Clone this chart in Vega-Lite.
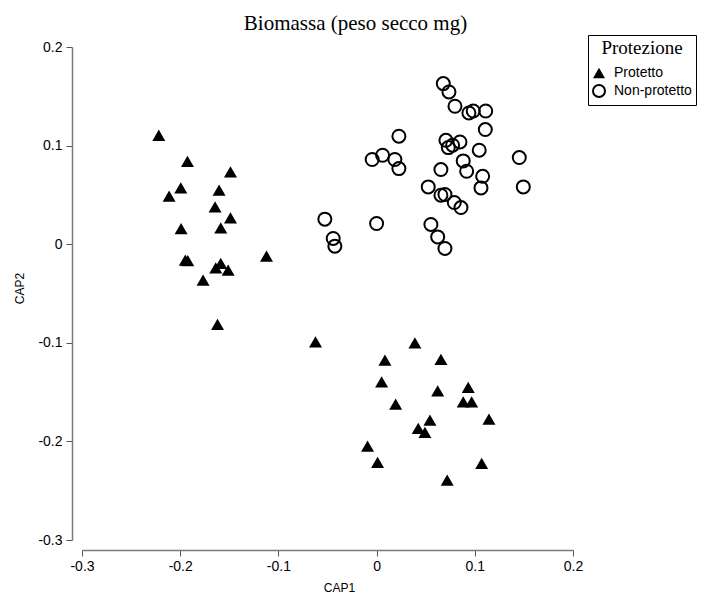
{
  "$schema": "https://vega.github.io/schema/vega-lite/v6.json",
  "width": 491,
  "height": 493,
  "autosize": {"type": "none"},
  "padding": {"left": 82, "top": 47, "right": 129, "bottom": 55},
  "background": "white",
  "title": {"text": "Biomassa (peso secco mg)", "font": "Liberation Serif", "fontSize": 21, "fontWeight": "normal", "color": "black", "anchor": "middle", "frame": "group", "dx": 28, "dy": 24, "baseline": "alphabetic", "offset": 8},
  "config": {"view": {"stroke": null}},
  "data": {"values": [
    {"CAP1": -0.2218, "CAP2": 0.1105, "gruppo": "Protetto"},
    {"CAP1": -0.1926, "CAP2": 0.0841, "gruppo": "Protetto"},
    {"CAP1": -0.1488, "CAP2": 0.0733, "gruppo": "Protetto"},
    {"CAP1": -0.1994, "CAP2": 0.0571, "gruppo": "Protetto"},
    {"CAP1": -0.2113, "CAP2": 0.0487, "gruppo": "Protetto"},
    {"CAP1": -0.1604, "CAP2": 0.0548, "gruppo": "Protetto"},
    {"CAP1": -0.1645, "CAP2": 0.0378, "gruppo": "Protetto"},
    {"CAP1": -0.1488, "CAP2": 0.0267, "gruppo": "Protetto"},
    {"CAP1": -0.1587, "CAP2": 0.0165, "gruppo": "Protetto"},
    {"CAP1": -0.1991, "CAP2": 0.0159, "gruppo": "Protetto"},
    {"CAP1": -0.1948, "CAP2": -0.0162, "gruppo": "Protetto"},
    {"CAP1": -0.1923, "CAP2": -0.0167, "gruppo": "Protetto"},
    {"CAP1": -0.1121, "CAP2": -0.0121, "gruppo": "Protetto"},
    {"CAP1": -0.1638, "CAP2": -0.024, "gruppo": "Protetto"},
    {"CAP1": -0.1587, "CAP2": -0.0195, "gruppo": "Protetto"},
    {"CAP1": -0.1512, "CAP2": -0.0263, "gruppo": "Protetto"},
    {"CAP1": -0.1767, "CAP2": -0.0365, "gruppo": "Protetto"},
    {"CAP1": -0.162, "CAP2": -0.0814, "gruppo": "Protetto"},
    {"CAP1": -0.0622, "CAP2": -0.099, "gruppo": "Protetto"},
    {"CAP1": 0.039, "CAP2": -0.1, "gruppo": "Protetto"},
    {"CAP1": 0.0085, "CAP2": -0.1176, "gruppo": "Protetto"},
    {"CAP1": 0.0655, "CAP2": -0.1169, "gruppo": "Protetto"},
    {"CAP1": 0.0051, "CAP2": -0.1396, "gruppo": "Protetto"},
    {"CAP1": 0.0622, "CAP2": -0.1487, "gruppo": "Protetto"},
    {"CAP1": 0.0933, "CAP2": -0.1452, "gruppo": "Protetto"},
    {"CAP1": 0.0882, "CAP2": -0.1598, "gruppo": "Protetto"},
    {"CAP1": 0.0968, "CAP2": -0.1598, "gruppo": "Protetto"},
    {"CAP1": 0.0194, "CAP2": -0.1622, "gruppo": "Protetto"},
    {"CAP1": 0.1144, "CAP2": -0.1774, "gruppo": "Protetto"},
    {"CAP1": 0.0543, "CAP2": -0.1784, "gruppo": "Protetto"},
    {"CAP1": 0.0424, "CAP2": -0.1868, "gruppo": "Protetto"},
    {"CAP1": 0.0492, "CAP2": -0.1908, "gruppo": "Protetto"},
    {"CAP1": -0.0092, "CAP2": -0.2047, "gruppo": "Protetto"},
    {"CAP1": 0.001, "CAP2": -0.2213, "gruppo": "Protetto"},
    {"CAP1": 0.107, "CAP2": -0.2223, "gruppo": "Protetto"},
    {"CAP1": 0.0719, "CAP2": -0.2392, "gruppo": "Protetto"},
    {"CAP1": 0.0679, "CAP2": 0.1629, "gruppo": "Non-protetto"},
    {"CAP1": 0.0737, "CAP2": 0.1544, "gruppo": "Non-protetto"},
    {"CAP1": 0.0798, "CAP2": 0.1399, "gruppo": "Non-protetto"},
    {"CAP1": 0.094, "CAP2": 0.1331, "gruppo": "Non-protetto"},
    {"CAP1": 0.0984, "CAP2": 0.1351, "gruppo": "Non-protetto"},
    {"CAP1": 0.1111, "CAP2": 0.1351, "gruppo": "Non-protetto"},
    {"CAP1": 0.1107, "CAP2": 0.1163, "gruppo": "Non-protetto"},
    {"CAP1": 0.0227, "CAP2": 0.1095, "gruppo": "Non-protetto"},
    {"CAP1": 0.0706, "CAP2": 0.1054, "gruppo": "Non-protetto"},
    {"CAP1": 0.0849, "CAP2": 0.1037, "gruppo": "Non-protetto"},
    {"CAP1": 0.073, "CAP2": 0.098, "gruppo": "Non-protetto"},
    {"CAP1": 0.0774, "CAP2": 0.1004, "gruppo": "Non-protetto"},
    {"CAP1": 0.1045, "CAP2": 0.0953, "gruppo": "Non-protetto"},
    {"CAP1": 0.0061, "CAP2": 0.0902, "gruppo": "Non-protetto"},
    {"CAP1": -0.0045, "CAP2": 0.0859, "gruppo": "Non-protetto"},
    {"CAP1": 0.0186, "CAP2": 0.0859, "gruppo": "Non-protetto"},
    {"CAP1": 0.0227, "CAP2": 0.0767, "gruppo": "Non-protetto"},
    {"CAP1": 0.0882, "CAP2": 0.0845, "gruppo": "Non-protetto"},
    {"CAP1": 0.0917, "CAP2": 0.074, "gruppo": "Non-protetto"},
    {"CAP1": 0.0655, "CAP2": 0.0757, "gruppo": "Non-protetto"},
    {"CAP1": 0.108, "CAP2": 0.0689, "gruppo": "Non-protetto"},
    {"CAP1": 0.1063, "CAP2": 0.0571, "gruppo": "Non-protetto"},
    {"CAP1": 0.0526, "CAP2": 0.0581, "gruppo": "Non-protetto"},
    {"CAP1": 0.0655, "CAP2": 0.0497, "gruppo": "Non-protetto"},
    {"CAP1": 0.0696, "CAP2": 0.0504, "gruppo": "Non-protetto"},
    {"CAP1": 0.0791, "CAP2": 0.0423, "gruppo": "Non-protetto"},
    {"CAP1": 0.0859, "CAP2": 0.0372, "gruppo": "Non-protetto"},
    {"CAP1": -0.0527, "CAP2": 0.0254, "gruppo": "Non-protetto"},
    {"CAP1": 0.0, "CAP2": 0.021, "gruppo": "Non-protetto"},
    {"CAP1": 0.0553, "CAP2": 0.02, "gruppo": "Non-protetto"},
    {"CAP1": -0.0442, "CAP2": 0.0058, "gruppo": "Non-protetto"},
    {"CAP1": -0.0425, "CAP2": -0.002, "gruppo": "Non-protetto"},
    {"CAP1": 0.0622, "CAP2": 0.0074, "gruppo": "Non-protetto"},
    {"CAP1": 0.0696, "CAP2": -0.0043, "gruppo": "Non-protetto"},
    {"CAP1": 0.1453, "CAP2": 0.0879, "gruppo": "Non-protetto"},
    {"CAP1": 0.1494, "CAP2": 0.0581, "gruppo": "Non-protetto"}
  ]},
  "mark": {"type": "point", "opacity": 1, "strokeWidth": 2, "size": 169},
  "encoding": {
    "x": {"field": "CAP1", "type": "quantitative", "scale": {"domain": [-0.3, 0.2], "nice": false, "zero": false},
      "axis": {"title": "CAP1", "offset": 10, "values": [-0.3, -0.2, -0.1, 0, 0.1, 0.2], "labelExpr": "toString(round(datum.value*10)/10)", "grid": false, "domainColor": "#7a7a7a", "domainWidth": 1.5, "tickColor": "#555555", "tickWidth": 1, "tickSize": 6, "labelFont": "Liberation Sans", "labelFontSize": 14, "labelColor": "black", "labelPadding": 3, "labelFlush": false, "labelOverlap": false, "titleFont": "Liberation Sans", "titleFontSize": 12, "titleFontWeight": "normal", "titleColor": "black", "titleX": 257, "titleY": 41, "titleBaseline": "alphabetic", "titleAlign": "center"}},
    "y": {"field": "CAP2", "type": "quantitative", "scale": {"domain": [-0.3, 0.2], "nice": false, "zero": false},
      "axis": {"title": "CAP2", "offset": 10, "values": [-0.3, -0.2, -0.1, 0, 0.1, 0.2], "labelExpr": "toString(round(datum.value*10)/10)", "grid": false, "domainColor": "#7a7a7a", "domainWidth": 1.5, "tickColor": "#555555", "tickWidth": 1, "tickSize": 6, "labelFont": "Liberation Sans", "labelFontSize": 14, "labelColor": "black", "labelPadding": 4, "labelFlush": false, "labelOverlap": false, "titleFont": "Liberation Sans", "titleFontSize": 12, "titleFontWeight": "normal", "titleColor": "black", "titleX": -48.7, "titleY": 241, "titleAngle": -90, "titleBaseline": "alphabetic", "titleAlign": "center"}},
    "shape": {"field": "gruppo", "type": "nominal", "scale": {"domain": ["Protetto", "Non-protetto"], "range": ["triangle-up", "circle"]},
      "legend": {"title": "Protezione", "orient": "none", "legendX": 506, "legendY": -12, "strokeColor": "black", "fillColor": "white", "padding": 4, "titleFont": "Liberation Serif", "titleFontSize": 19, "titleFontWeight": "normal", "titleColor": "black", "titleAnchor": "middle", "titlePadding": 8, "labelFont": "Liberation Sans", "labelFontSize": 14, "labelColor": "black", "labelOffset": 8, "symbolSize": 144, "symbolStrokeWidth": 2, "rowPadding": -2}},
    "fill": {"field": "gruppo", "type": "nominal", "scale": {"domain": ["Protetto", "Non-protetto"], "range": ["black", "transparent"]},
      "legend": {"title": "Protezione", "orient": "none", "legendX": 506, "legendY": -12, "strokeColor": "black", "fillColor": "white", "padding": 4, "titleFont": "Liberation Serif", "titleFontSize": 19, "titleFontWeight": "normal", "titleColor": "black", "titleAnchor": "middle", "titlePadding": 8, "labelFont": "Liberation Sans", "labelFontSize": 14, "labelColor": "black", "labelOffset": 8, "symbolSize": 144, "symbolStrokeWidth": 2, "rowPadding": -2}},
    "stroke": {"field": "gruppo", "type": "nominal", "scale": {"domain": ["Protetto", "Non-protetto"], "range": ["transparent", "black"]},
      "legend": {"title": "Protezione", "orient": "none", "legendX": 506, "legendY": -12, "strokeColor": "black", "fillColor": "white", "padding": 4, "titleFont": "Liberation Serif", "titleFontSize": 19, "titleFontWeight": "normal", "titleColor": "black", "titleAnchor": "middle", "titlePadding": 8, "labelFont": "Liberation Sans", "labelFontSize": 14, "labelColor": "black", "labelOffset": 8, "symbolSize": 144, "symbolStrokeWidth": 2, "rowPadding": -2}}
  }
}
